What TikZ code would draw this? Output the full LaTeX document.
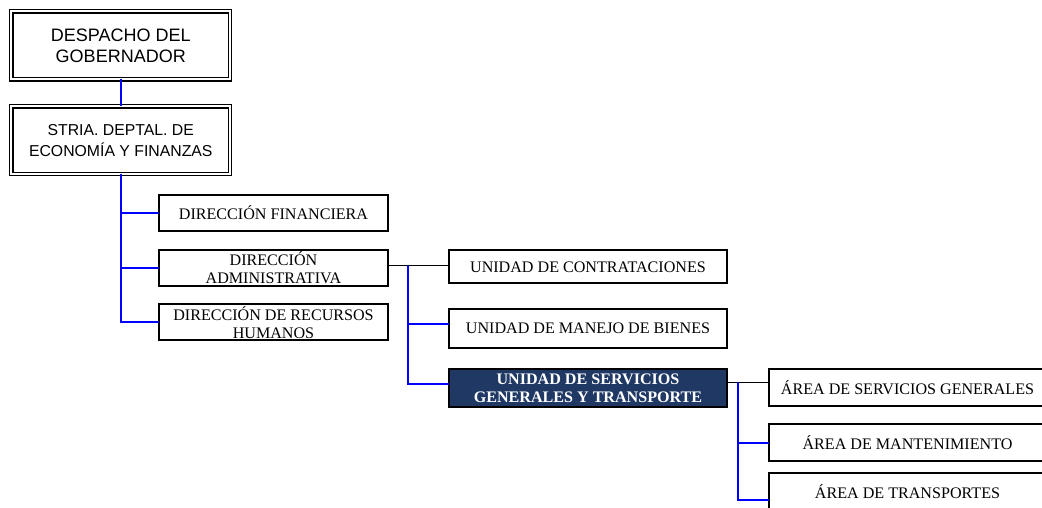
\documentclass[tikz,border=0pt]{standalone}
\usepackage{fontspec}
\setmainfont{Liberation Serif}
\newfontfamily\arialfont{Liberation Sans}
\definecolor{ink}{HTML}{000000}
\definecolor{wireblue}{HTML}{0000FF}
\definecolor{navyfill}{HTML}{1F3864}
\tikzset{
  head/.style={draw=ink,double=white,double distance=2bp,line width=1.3bp,fill=white,align=center,text=ink,minimum width=218.5bp},
  unit/.style={draw=ink,line width=2bp,fill=white,align=center,text=ink,font=\fontsize{16.1bp}{18bp}\selectfont},
  chosen/.style={unit,fill=navyfill,text=white,font=\fontsize{16.1bp}{18bp}\selectfont\bfseries},
  bwire/.style={draw=wireblue,line width=2bp},
  kwire/.style={draw=ink,line width=1.6bp}
}
\begin{document}
\begin{tikzpicture}[x=1bp,y=-1bp,every node/.style={inner sep=0pt,outer sep=0pt}]
\path[use as bounding box] (0,0) rectangle (1042,508);
\clip (0,0) rectangle (1042,508);

\node[head,minimum height=68bp,font=\arialfont\fontsize{18bp}{21bp}\selectfont] (despacho) at (120.75,45.5) {DESPACHO DEL\\GOBERNADOR};
\node[head,minimum height=67.5bp,font=\arialfont\fontsize{15.8bp}{21bp}\selectfont] (stria) at (120.75,140.25) {STRIA. DEPTAL. DE\\ECONOMÍA Y FINANZAS};
\draw[bwire] (despacho) -- (stria);

\node[unit,minimum width=229bp,minimum height=36bp] (dir-fin) at (273.5,213) {DIRECCIÓN FINANCIERA};
\node[unit,minimum width=229bp,minimum height=36bp] (dir-adm) at (273.5,267.6) {DIRECCIÓN\\ADMINISTRATIVA};
\node[unit,minimum width=229bp,minimum height=36bp] (dir-rrhh) at (273.5,322.5) {DIRECCIÓN DE RECURSOS\\HUMANOS};
\draw[bwire] (stria.south) |- (dir-fin.west);
\draw[bwire] (stria.south) |- (dir-adm.west);
\draw[bwire] (stria.south) |- (dir-rrhh.west);

\node[unit,minimum width=278bp,minimum height=33bp] (u-contr) at (588,267) {UNIDAD DE CONTRATACIONES};
\node[unit,minimum width=278bp,minimum height=39bp] (u-bienes) at (588,328.3) {UNIDAD DE MANEJO DE BIENES};
\node[chosen,minimum width=278bp,minimum height=38bp] (u-sgt) at (588,387.8) {UNIDAD DE SERVICIOS\\GENERALES Y TRANSPORTE};
\coordinate (adm-out) at ([yshift=2bp]dir-adm.east);
\draw[kwire] (adm-out) -- (adm-out -| u-contr.west);
\coordinate (adm-fork) at (408,265);
\draw[bwire] (adm-fork) |- ([yshift=4.3bp]u-bienes.west);
\draw[bwire] (adm-fork) |- ([yshift=3.8bp]u-sgt.west);

\node[unit,minimum width=277bp,minimum height=37bp] (a-sg) at (907.5,387.5) {ÁREA DE SERVICIOS GENERALES};
\node[unit,minimum width=277bp,minimum height=37bp] (a-mant) at (907.5,442.7) {ÁREA DE MANTENIMIENTO};
\node[unit,minimum width=277bp,minimum height=37bp] (a-trans) at (907.5,491.5) {ÁREA DE TRANSPORTES};
\coordinate (sgt-out) at ([yshift=5.5bp]u-sgt.east);
\draw[kwire] (sgt-out) -- (sgt-out -| a-sg.west);
\coordinate (sgt-fork) at (738.3,382.3);
\draw[bwire] (sgt-fork) |- (a-mant.west);
\draw[bwire] (sgt-fork) |- ([yshift=-8.5bp]a-trans.west);
\end{tikzpicture}
\end{document}
